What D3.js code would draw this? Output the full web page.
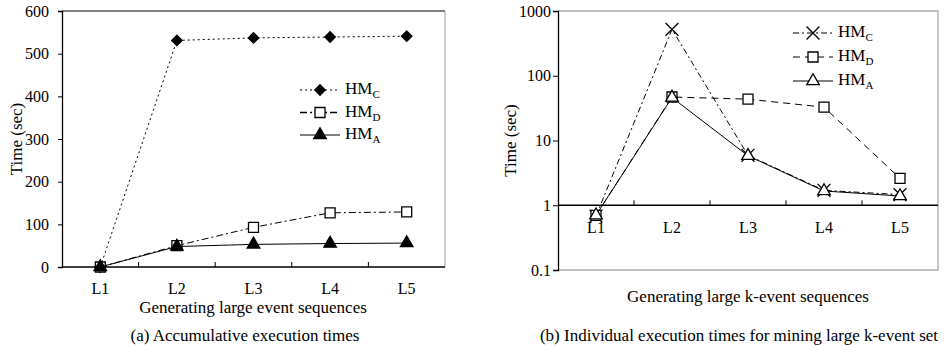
<!DOCTYPE html>
<html>
<head>
<meta charset="utf-8">
<script src="https://cdn.jsdelivr.net/npm/d3@7"></script>
<style>
  body { margin: 0; background: #fff; }
  svg text { font-family: "Liberation Serif", "Times New Roman", serif; fill: #000; }
</style>
</head>
<body>
<svg id="chart" width="945" height="347"></svg>
<script>
// Categories shared by both panels
const levels = ['L1', 'L2', 'L3', 'L4', 'L5'];

// (a) Accumulative execution times (sec)
const accHMC = [0, 531, 537, 539, 541];
const accHMD = [0, 50, 93, 127, 129];
const accHMA = [0, 48, 53, 55, 56];
const accTicks = [0, 100, 200, 300, 400, 500, 600];

// (b) Individual execution times (sec, log scale)
const indHMC = [0.68, 520, 5.9, 1.7, 1.46];
const indHMD = [0.7, 47, 43.5, 32.7, 2.6];
const indHMA = [0.7, 46, 5.8, 1.66, 1.39];
const indTicks = [0.1, 1, 10, 100, 1000];

const svg = d3.select('#chart');
const tickFont = 16;
const titleFont = 17;

// marker symbols
const diamond = d3.symbol().type(d3.symbolDiamond2).size(70);
const square = d3.symbol().type(d3.symbolSquare).size(100);
const triangle = d3.symbol().type(d3.symbolTriangle).size(68);
const cross = d3.symbol().type(d3.symbolX).size(110);

// Draw a series: line + markers
function drawSeries(g, x, y, values, style) {
  const pts = values.map((v, i) => [x(levels[i]) + x.bandwidth() / 2, y(v)]);
  g.append('path')
    .attr('d', d3.line()(pts))
    .attr('fill', 'none')
    .attr('stroke', '#000')
    .attr('stroke-width', style.width || 1)
    .attr('stroke-dasharray', style.dash || null);
  g.selectAll(null)
    .data(pts)
    .enter()
    .append('path')
    .attr('transform', d => `translate(${d[0]},${d[1]})`)
    .attr('d', style.symbol)
    .attr('fill', style.fill)
    .attr('stroke', '#000')
    .attr('stroke-width', style.symbolStroke || 1.3);
}

// Legend entries
function drawLegend(g, x0, y0, rowH, entries) {
  entries.forEach((e, i) => {
    const yy = y0 + i * rowH;
    g.append('line')
      .attr('x1', x0).attr('x2', x0 + 40)
      .attr('y1', yy).attr('y2', yy)
      .attr('stroke', '#000')
      .attr('stroke-width', e.style.width || 1)
      .attr('stroke-dasharray', e.style.dash || null);
    g.append('path')
      .attr('transform', `translate(${x0 + 20},${yy})`)
      .attr('d', e.style.symbol)
      .attr('fill', e.style.fill)
      .attr('stroke', '#000')
      .attr('stroke-width', e.style.symbolStroke || 1.3);
    const t = g.append('text')
      .attr('x', x0 + 45)
      .attr('y', yy + 4)
      .style('font-size', titleFont + 'px');
    t.append('tspan').text('HM');
    t.append('tspan').attr('dy', 4).style('font-size', '11px').text(e.sub);
  });
}

// ---------- Panel (a) ----------
{
  const left = 62, right = 445, top = 11, bottom = 267;
  const g = svg.append('g');
  const x = d3.scaleBand().domain(levels).range([left, right]);
  const y = d3.scaleLinear().domain([0, 600]).range([bottom, top]);

  // frame: top black, right gray
  g.append('line').attr('x1', left).attr('x2', right).attr('y1', top).attr('y2', top)
    .attr('stroke', '#000');
  g.append('line').attr('x1', right).attr('x2', right).attr('y1', top).attr('y2', bottom)
    .attr('stroke', '#999');

  const yAxis = g.append('g')
    .attr('transform', `translate(${left},0)`)
    .call(d3.axisLeft(y).tickValues(accTicks).tickSize(4).tickPadding(9));
  yAxis.select('.domain').attr('stroke-width', 1.3);
  yAxis.selectAll('text').style('font-size', tickFont + 'px').attr('font-family', null);

  const xAxis = g.append('g')
    .attr('transform', `translate(0,${bottom})`)
    .call(d3.axisBottom(x).tickSize(0).tickPadding(16));
  xAxis.select('.domain').attr('d', `M${left},0H${right}`).attr('stroke-width', 1.3);
  xAxis.selectAll('text').style('font-size', tickFont + 'px').attr('font-family', null);
  // boundary ticks pointing up
  g.selectAll(null).data(levels.slice(1)).enter().append('line')
    .attr('x1', d => x(d)).attr('x2', d => x(d))
    .attr('y1', bottom).attr('y2', bottom - 5)
    .attr('stroke', '#000');

  const styleC = { dash: '2,3', symbol: diamond, fill: '#000' };
  const styleD = { dash: '7,3,2,3', symbol: square, fill: '#fff' };
  const styleA = { symbol: triangle, fill: '#000' };

  drawSeries(g, x, y, accHMC, styleC);
  drawSeries(g, x, y, accHMD, styleD);
  drawSeries(g, x, y, accHMA, styleA);

  drawLegend(g, 300, 90, 22.5, [
    { style: styleC, sub: 'C' },
    { style: { ...styleD, width: 1.6 }, sub: 'D' },
    { style: styleA, sub: 'A' }
  ]);

  g.append('text')
    .attr('transform', `translate(22,${(top + bottom) / 2}) rotate(-90)`)
    .attr('text-anchor', 'middle')
    .style('font-size', titleFont + 'px')
    .text('Time (sec)');
  g.append('text')
    .attr('x', 253).attr('y', 313)
    .attr('text-anchor', 'middle')
    .style('font-size', titleFont + 'px')
    .text('Generating large event sequences');
  g.append('text')
    .attr('x', 245).attr('y', 341)
    .attr('text-anchor', 'middle')
    .style('font-size', titleFont + 'px')
    .text('(a) Accumulative execution times');
}

// ---------- Panel (b) ----------
{
  const left = 558, right = 938, top = 11, bottom = 270;
  const g = svg.append('g');
  const x = d3.scaleBand().domain(levels).range([left, right]);
  const y = d3.scaleLog().domain([0.1, 1000]).range([bottom, top]);

  // frame: top, right, bottom gray
  g.append('path')
    .attr('d', `M${left},${top}H${right}V${bottom}H${left}`)
    .attr('fill', 'none')
    .attr('stroke', '#aaa')
    .attr('stroke-width', 1.3);

  const yAxis = g.append('g')
    .attr('transform', `translate(${left},0)`)
    .call(d3.axisLeft(y).tickValues(indTicks).tickFormat(d3.format('')).tickSize(5).tickPadding(2));
  yAxis.select('.domain').attr('stroke-width', 1.3);
  yAxis.selectAll('text').style('font-size', tickFont + 'px').attr('font-family', null);

  const xAxis = g.append('g')
    .attr('transform', `translate(0,${y(1)})`)
    .call(d3.axisBottom(x).tickSize(0).tickPadding(16));
  xAxis.select('.domain').attr('d', `M${left},0H${right}`).attr('stroke-width', 1.3);
  xAxis.selectAll('text').style('font-size', tickFont + 'px').attr('font-family', null);
  g.selectAll(null).data(levels.slice(1)).enter().append('line')
    .attr('x1', d => x(d)).attr('x2', d => x(d))
    .attr('y1', y(1)).attr('y2', y(1) - 5)
    .attr('stroke', '#000');

  const styleC = { dash: '6,3,2,3', symbol: cross, fill: 'none' };
  const styleD = { dash: '7,5', symbol: square, fill: '#fff' };
  const styleA = { symbol: triangle, fill: '#fff' };

  drawSeries(g, x, y, indHMC, styleC);
  drawSeries(g, x, y, indHMD, styleD);
  drawSeries(g, x, y, indHMA, styleA);

  drawLegend(g, 793, 33, 24, [
    { style: styleC, sub: 'C' },
    { style: styleD, sub: 'D' },
    { style: styleA, sub: 'A' }
  ]);

  g.append('text')
    .attr('transform', `translate(516,${(top + bottom) / 2}) rotate(-90)`)
    .attr('text-anchor', 'middle')
    .style('font-size', titleFont + 'px')
    .text('Time (sec)');
  g.append('text')
    .attr('x', 748).attr('y', 302)
    .attr('text-anchor', 'middle')
    .style('font-size', titleFont + 'px')
    .text('Generating large k-event sequences');
  g.append('text')
    .attr('x', 739).attr('y', 341)
    .attr('text-anchor', 'middle')
    .style('font-size', titleFont + 'px')
    .text('(b) Individual execution times for mining large k-event set');
}
</script>
</body>
</html>
